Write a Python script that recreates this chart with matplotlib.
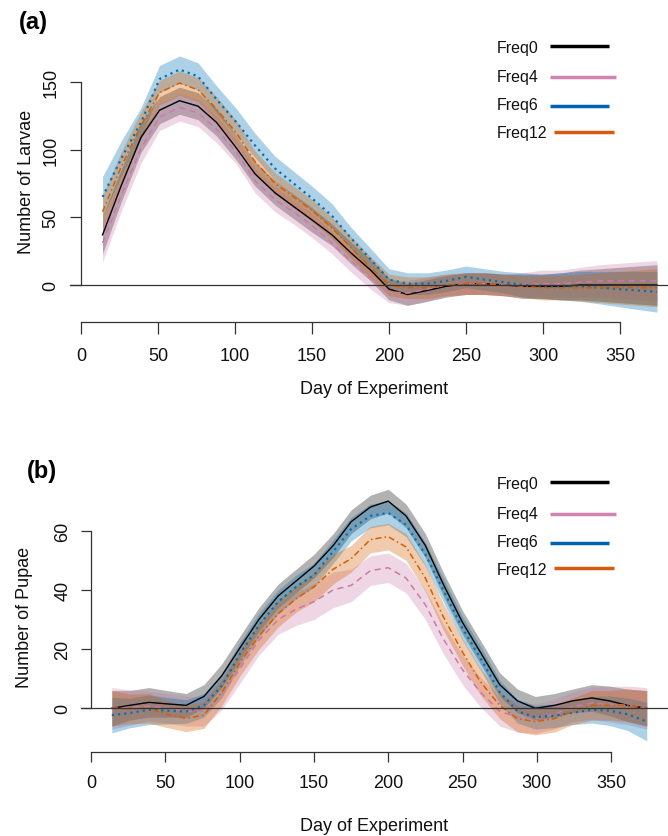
import matplotlib
matplotlib.use("Agg")
import matplotlib.pyplot as plt
from matplotlib.lines import Line2D
import numpy as np

plt.rcParams['font.family'] = ['Liberation Sans', 'DejaVu Sans']

# ---------------- data ----------------
days = [14, 26, 39, 51, 64, 76, 88, 101, 113, 126, 138, 150, 163, 175, 188,
        200, 212, 225, 237, 250, 262, 275, 287, 299, 312, 324, 337, 349, 361, 374]

groups = ["Freq0", "Freq4", "Freq6", "Freq12"]

# Panel (a): larvae
larv_f0 = [37, 73, 109, 129, 136, 132, 120, 101, 82, 68, 58, 48, 37, 24, 11,
           -3, -7, -4, -1, 1, 1, 0, -1, -1, -1, 0, 0, 0, 0, 0]
larv_f4 = [31, 66, 101, 124, 131, 127, 115, 98, 77, 63, 54, 44, 31, 18, 5,
           -5, -6, -3, 0, 1, 1, 0, 0, 1, 1, 2, 3, 3, 3, 3]
larv_f6 = [65, 93, 120, 152, 159, 154, 137, 120, 103, 86, 75, 64, 51, 35, 19,
           4, 1, 1, 3, 6, 4, 2, 0, -1, -1, -1, -2, -3, -4, -5]
larv_f12 = [54, 87, 118, 142, 149, 144, 130, 112, 91, 75, 65, 55, 42, 28, 13,
            0, -2, -2, 0, 1, 1, 0, -1, -2, -2, -2, -2, -2, -2, -2]

larv_hw0 = [14, 12, 11, 10, 10, 10, 10, 9, 9, 9, 9, 9, 8, 8, 8,
            8, 8, 8, 8, 8, 8, 8, 9, 9, 10, 11, 12, 13, 14, 15]
larv_hw4 = [14, 12, 11, 10, 10, 10, 10, 9, 9, 9, 9, 9, 8, 8, 8,
            8, 9, 9, 8, 8, 8, 8, 9, 10, 10, 11, 12, 13, 14, 15]
larv_hw6 = [15, 13, 11, 10, 10, 10, 10, 10, 9, 9, 9, 9, 9, 8, 8,
            8, 8, 8, 8, 8, 8, 8, 9, 9, 10, 11, 12, 13, 14, 15]
larv_hw12 = [12, 11, 10, 9, 9, 9, 9, 9, 8, 8, 8, 8, 8, 8, 8,
             8, 8, 8, 8, 8, 8, 8, 8, 9, 9, 10, 11, 12, 13, 14]

# Panel (b): pupae
pup_f0 = [0, 1, 2, 1.5, 1, 4, 11, 21, 30, 38, 43, 48, 55, 63, 68,
          70, 65, 55, 42, 29, 19, 8, 2.5, 0, 1, 2.5, 3.5, 2.5, 1, 0]
pup_f4 = [0, 0.3, 0.7, 0, -1, -1, 4.5, 14, 23, 30, 33.5, 36, 40, 41.5, 46.5,
          47.5, 44, 35, 23.5, 13, 5.5, -1, -3, -3.5, -2, 0.5, 1.7, 1.4, 1, 0]
pup_f6 = [-2.3, -1.6, -0.5, -0.8, -1.1, 1, 7.6, 19, 28, 36, 41, 45, 53, 60.5, 65,
          66, 62, 52, 40, 27, 17, 5.5, -1, -3, -2.5, -1.5, -0.5, -0.8, -2, -4.5]
pup_f12 = [0, -0.2, 0, -2, -3.4, -2.3, 5.4, 16, 24.5, 32, 37, 41, 47, 50.5, 57,
           58, 54.5, 44, 31, 19, 9, 1, -3.5, -4.5, -3.5, -1, 1, 1, 1, 0]

pup_hw0 = [6, 5, 5, 4.5, 4, 4, 4, 4, 4, 4, 4, 4, 4, 4, 4,
           4, 4, 4, 4, 4, 4, 4, 4, 4, 4, 4, 4.5, 5, 5.5, 6]
pup_hw4 = [7, 6, 5, 5, 5, 5, 5, 5, 5, 5, 5.5, 6, 6, 5.5, 5,
           5, 5, 5, 5, 5, 5, 5, 5, 5, 5, 5, 5.5, 6, 6.5, 7]
pup_hw6 = [6, 5, 5, 4.5, 4, 4, 4, 4, 4, 4, 4, 4, 4, 4, 4,
           4, 4, 4, 4, 4, 4, 4, 4, 4, 4, 4, 4.5, 5, 5.5, 6.5]
pup_hw12 = [6, 5, 5, 4.5, 4.5, 4.5, 4.5, 4.5, 4.5, 4.5, 4.5, 5, 5, 4.5, 4.5,
            4.5, 4.5, 4.5, 4.5, 4.5, 4.5, 4.5, 4.5, 4.5, 4.5, 4.5, 5, 5, 5.5, 6]

xticks = [0, 50, 100, 150, 200, 250, 300, 350]
yticks_a = [0, 50, 100, 150]
yticks_b = [0, 20, 40, 60]

# ---------------- style ----------------
colors = {"Freq0": "#000000", "Freq4": "#CC79A7", "Freq6": "#0072B2", "Freq12": "#D55E00"}
band_alpha = {"Freq0": 0.30, "Freq4": 0.30, "Freq6": 0.32, "Freq12": 0.32}
styles = {"Freq0": "-", "Freq4": (0, (4, 3)), "Freq6": (0, (1, 1.8)), "Freq12": (0, (4, 2, 1, 2))}
lws = {"Freq0": 1.0, "Freq4": 1.1, "Freq6": 1.6, "Freq12": 1.1}
legend_cols = {"Freq0": "#000000", "Freq4": "#D283B0", "Freq6": "#0062B0", "Freq12": "#D65A10"}

W, H = 668, 837
fig = plt.figure(figsize=(W / 100, H / 100), dpi=100)

AX_COL = "#333333"


def px_axes(x0d, x1d, y0d, y1d, xorig, xscale, yorig, yscale):
    left = xorig + x0d * xscale
    right = xorig + x1d * xscale
    bottom = yorig - y0d * yscale
    top = yorig - y1d * yscale
    return [left / W, (H - bottom) / H, (right - left) / W, (bottom - top) / H]


def draw_panel(ax, series, hws, yticks, ybound, xaxis_y, xlim, ylim,
               xtick_len, ytick_len, xpad, ypad):
    for g, vals, hw in zip(groups, series, hws):
        v = np.array(vals, dtype=float)
        h = np.array(hw, dtype=float)
        ax.fill_between(days, v - h, v + h, color=colors[g], alpha=band_alpha[g],
                        linewidth=0, zorder=1)
    for g, vals in zip(groups, series):
        ax.plot(days, vals, color=colors[g], linestyle=styles[g], lw=lws[g], zorder=3)
    ax.axhline(0, color=AX_COL, lw=0.9, zorder=4, clip_on=False)
    ax.set_xlim(*xlim)
    ax.set_ylim(*ylim)
    for s in ["top", "right"]:
        ax.spines[s].set_visible(False)
    ax.spines["left"].set_position(("data", 0))
    ax.spines["left"].set_bounds(ybound[0], ybound[1])
    ax.spines["bottom"].set_position(("data", xaxis_y))
    ax.spines["bottom"].set_bounds(0, 350)
    for s in ["left", "bottom"]:
        ax.spines[s].set_color(AX_COL)
        ax.spines[s].set_linewidth(0.9)
    ax.set_xticks(xticks)
    ax.set_xticklabels([str(t) for t in xticks])
    ax.set_yticks(yticks)
    ax.set_yticklabels([str(t) for t in yticks], rotation=90, va="center")
    ax.tick_params(axis="x", length=xtick_len, width=0.9, color=AX_COL, pad=xpad,
                   labelsize=13, labelcolor="#111111")
    ax.tick_params(axis="y", length=ytick_len, width=0.9, color=AX_COL, pad=ypad,
                   labelsize=13, labelcolor="#111111")
    ax.patch.set_alpha(0)


# Panel (a)
ax_a = fig.add_axes(px_axes(-7, 382, -30, 175, 81, 1.54, 286, 1.355))
draw_panel(ax_a, [larv_f0, larv_f4, larv_f6, larv_f12],
           [larv_hw0, larv_hw4, larv_hw6, larv_hw12],
           yticks_a, (0, 150), -27.3, (-7, 382), (-30, 175),
           8.6, 7.9, 9.5, 7.6)

# Panel (b)
ax_b = fig.add_axes(px_axes(-6.9, 388.5, -16, 75, 91, 1.486, 709.3, 2.96))
draw_panel(ax_b, [pup_f0, pup_f4, pup_f6, pup_f12],
           [pup_hw0, pup_hw4, pup_hw6, pup_hw12],
           yticks_b, (0, 60), -14.66, (-6.9, 388.5), (-16, 75),
           7.2, 7.2, 8.8, 7.0)


def ftext(x, y, s, **kw):
    fig.text(x / W, 1 - y / H, s, **kw)


# axis labels
ftext(374, 390, "Day of Experiment", ha="center", va="center", fontsize=13, color="#111111")
ftext(374, 827, "Day of Experiment", ha="center", va="center", fontsize=13, color="#111111")
ftext(27, 182, "Number of Larvae", ha="center", va="center", rotation=90, fontsize=13, color="#111111")
ftext(25, 617, "Number of Pupae", ha="center", va="center", rotation=90, fontsize=13, color="#111111")

# panel tags
ftext(33, 23, "(a)", ha="center", va="center", fontsize=17, fontweight="bold")
ftext(42, 472, "(b)", ha="center", va="center", fontsize=17, fontweight="bold")

# legends
leg_a_text = [53.3, 81.7, 110.0, 138.3]
leg_a_line = [46.7, 78.3, 107.3, 132.7]
leg_b_text = [489.3, 519.3, 546.7, 575.0]
leg_b_line = [482.7, 515.0, 544.0, 569.3]
line_x = {"Freq0": (550, 609), "Freq4": (550, 616), "Freq6": (550, 609), "Freq12": (554, 614)}

for ty_list, ly_list in [(leg_a_text, leg_a_line), (leg_b_text, leg_b_line)]:
    for g, ty, ly in zip(groups, ty_list, ly_list):
        ftext(496.7, ty, g, ha="left", va="baseline", fontsize=11.5, color="#111111")
        x0, x1 = line_x[g]
        fig.add_artist(Line2D([x0 / W, x1 / W], [1 - ly / H, 1 - ly / H],
                              transform=fig.transFigure, color=legend_cols[g], lw=2.5,
                              solid_capstyle="butt"))

fig.savefig("out.png", dpi=100)
